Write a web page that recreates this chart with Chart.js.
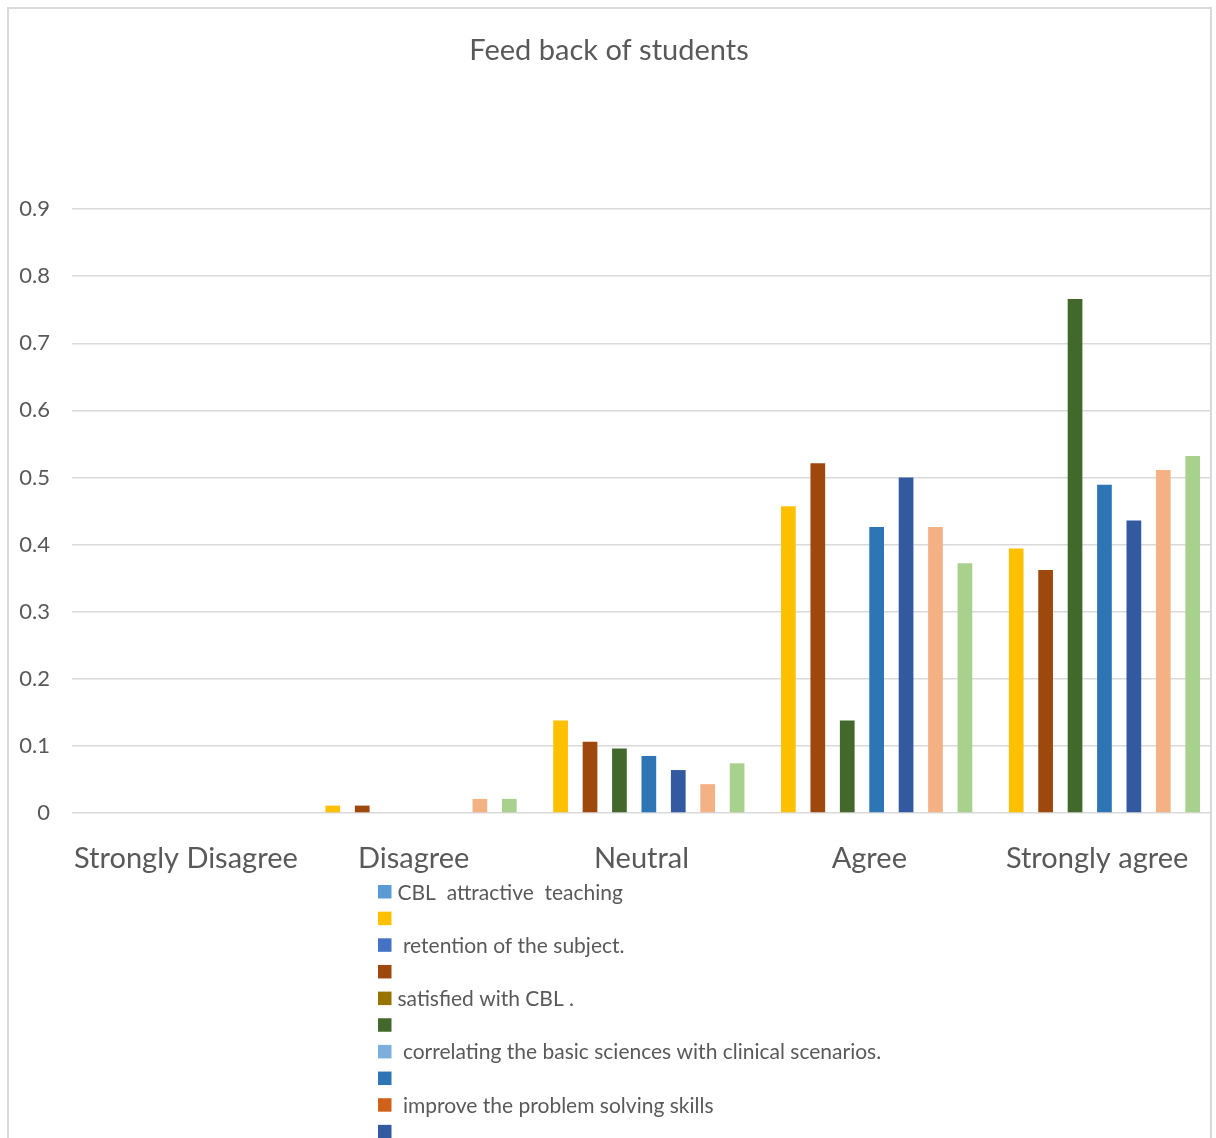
<!DOCTYPE html>
<html>
<head>
<meta charset="utf-8">
<title>Feed back of students</title>
<script src="https://cdn.jsdelivr.net/npm/chart.js@4.4.1/dist/chart.umd.min.js"></script>
<style>
  html, body { margin: 0; padding: 0; background: #ffffff; overflow: hidden; }
  #frame {
    position: absolute; left: 7px; top: 7px; width: 1201px; height: 1200px;
    border: 2px solid #d9d9d9; box-sizing: content-box;
  }
  #chart { position: absolute; left: 0; top: 0; }
</style>
</head>
<body>
<div id="frame"></div>
<canvas id="chart" width="1216" height="1138"></canvas>
<script>
// Response categories along the x axis
const categories = ['Strongly Disagree', 'Disagree', 'Neutral', 'Agree', 'Strongly agree'];

// Y axis ticks (share of students)
const yTicks = [0, 0.1, 0.2, 0.3, 0.4, 0.5, 0.6, 0.7, 0.8, 0.9];

// Heading rows of the sheet: they carry the statement text, no values
const headingValues = [0, 0, 0, 0, 0];

// Share of students per response, one array per statement
const attractiveTeaching = [0, 0.011, 0.138, 0.457, 0.394];
const retentionOfSubject = [0, 0.011, 0.106, 0.521, 0.362];
const satisfiedWithCBL   = [0, 0, 0.096, 0.138, 0.766];
const correlatingSciences = [0, 0, 0.085, 0.426, 0.489];
const problemSolving     = [0, 0, 0.064, 0.500, 0.436];
const statementSix       = [0, 0.021, 0.043, 0.426, 0.511];
const statementSeven     = [0, 0.021, 0.074, 0.372, 0.532];

// Legend texts, in series order
const seriesLabels = [
  'CBL  attractive  teaching', '',
  ' retention of the subject.', '',
  'satisfied with CBL .', '',
  ' correlating the basic sciences with clinical scenarios.', '',
  ' improve the problem solving skills', '',
  '', '',
  '', ''
];

const seriesValues = [
  headingValues, attractiveTeaching,
  headingValues, retentionOfSubject,
  headingValues, satisfiedWithCBL,
  headingValues, correlatingSciences,
  headingValues, problemSolving,
  headingValues, statementSix,
  headingValues, statementSeven
];

const seriesColors = [
  '#5B9BD5', '#FFC000',
  '#4472C4', '#9E480E',
  '#997300', '#43682B',
  '#7CAFDD', '#2E75B6',
  '#D0611A', '#335AA1',
  '#A5A5A5', '#F4B183',
  '#70AD47', '#A9D18E'
];

const TEXT = '#595959';
const FONT = 'Lato, "Open Sans", sans-serif';

// Vertical key list under the plot, built from the chart's own datasets
const keyList = {
  id: 'keyList',
  afterDraw(chart) {
    const ctx = chart.ctx;
    const area = chart.chartArea;
    const left = area.left + 306;
    const top = area.bottom + 72;
    const step = 26.65;
    const box = 13.5;
    ctx.save();
    ctx.font = '21px ' + FONT;
    ctx.textBaseline = 'middle';
    ctx.textAlign = 'left';
    chart.data.datasets.forEach((ds, i) => {
      const y = top + i * step;
      ctx.fillStyle = ds.backgroundColor;
      ctx.fillRect(left, y, box, box);
      ctx.fillStyle = TEXT;
      ctx.fillText(ds.label, left + box + 6, y + box / 2 + 1);
    });
    ctx.restore();
  }
};

new Chart(document.getElementById('chart'), {
  type: 'bar',
  data: {
    labels: categories,
    datasets: seriesValues.map((vals, i) => ({
      label: seriesLabels[i],
      data: vals,
      backgroundColor: seriesColors[i],
      borderWidth: 0,
      barPercentage: 1.0,
      categoryPercentage: 0.904
    }))
  },
  options: {
    responsive: false,
    animation: false,
    layout: { padding: { left: 7, right: 5, top: 0, bottom: 245 } },
    plugins: {
      legend: { display: false },
      tooltip: { enabled: false },
      title: {
        display: true,
        text: 'Feed back of students',
        color: TEXT,
        font: { family: FONT, size: 29, weight: 'normal' },
        padding: { top: 33, bottom: 141.2 }
      }
    },
    scales: {
      x: {
        grid: { display: false },
        border: { display: false },
        ticks: {
          color: TEXT,
          font: { family: FONT, size: 29 },
          padding: 20,
          maxRotation: 0,
          autoSkip: false
        },
        afterFit(scale) { scale.height = 80; }
      },
      y: {
        min: yTicks[0],
        max: yTicks[yTicks.length - 1],
        afterBuildTicks(scale) { scale.ticks = yTicks.map(v => ({ value: v })); },
        grid: { color: '#d9d9d9', lineWidth: 1.4, drawTicks: false },
        border: { display: false },
        ticks: {
          color: TEXT,
          font: { family: FONT, size: 22 },
          padding: 22,
          callback: v => String(Math.round(v * 10) / 10)
        },
        afterFit(scale) { scale.width = 65; }
      }
    }
  },
  plugins: [keyList]
});
</script>
</body>
</html>
